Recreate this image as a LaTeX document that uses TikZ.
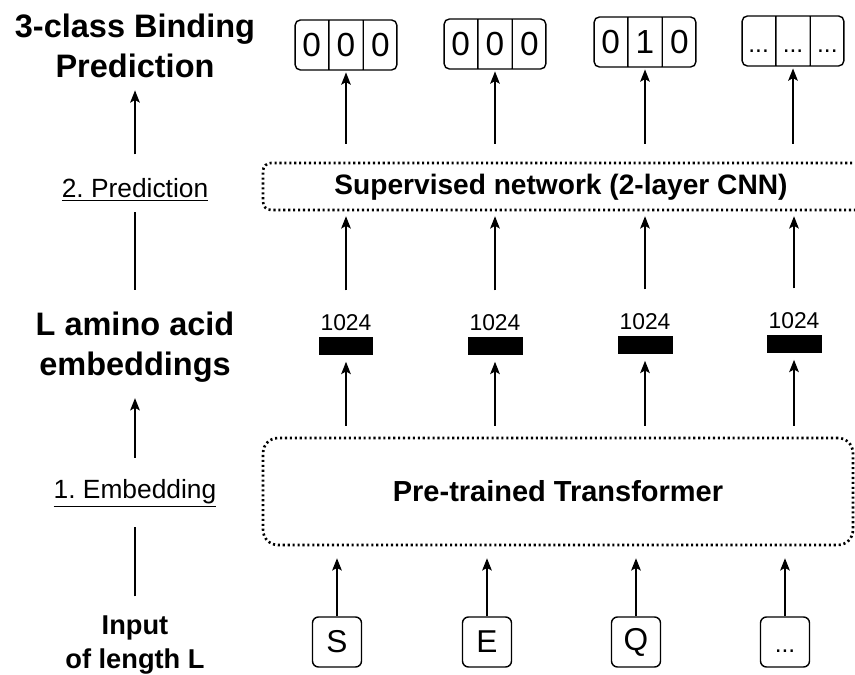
\documentclass[tikz,border=0pt]{standalone}
\usepackage{fontspec}
\setmainfont{Liberation Sans}
\usepackage{tikz}
\usetikzlibrary{shapes,arrows.meta}

\tikzset{
  arr/.style={-{Stealth[length=7pt,width=5.5pt,inset=1.5pt]}, line width=0.8pt},
  link/.style={line width=0.8pt},
  heading/.style={align=center, inner sep=0pt, font=\fontsize{18.5}{22.5}\selectfont\bfseries},
  smallhead/.style={align=center, inner sep=0pt, font=\fontsize{15.5}{19.3}\selectfont\bfseries},
  steplbl/.style={inner sep=0pt, font=\fontsize{15}{18}\selectfont},
  dotbox/.style={draw, line width=1.5pt, dash pattern=on 1.2pt off 1.6pt, font=\fontsize{16}{19}\selectfont\bfseries},
  outbox/.style={draw, line width=0.8pt, rounded corners=3pt, rectangle split, rectangle split horizontal,
    rectangle split parts=3, inner xsep=0pt, minimum height=1cm, font=\fontsize{19}{22}\selectfont},
  inbox/.style={draw, line width=0.8pt, rounded corners=3.4pt, minimum width=0.98cm, minimum height=1cm,
    inner sep=0pt, font=\fontsize{18}{21}\selectfont},
  embbar/.style={fill=black, minimum width=1.1cm, minimum height=0.38cm, inner sep=0pt},
  dimlbl/.style={inner sep=0pt, font=\fontsize{13}{15}\selectfont}
}

\newcommand{\cell}[1]{\makebox[0.66cm]{\vphantom{0}#1}}
\newcommand{\more}{{\fontsize{14}{16}\selectfont ...}}

\begin{document}
\frenchspacing
\begin{tikzpicture}[x=0.02cm, y=-0.02cm]
\useasboundingbox (0,0) rectangle (855,675);
\clip (0,0) rectangle (855,675);

% left column
\node[heading] (outlbl) at (135,46) {3-class Binding\\Prediction};
\node[steplbl] (predstep) at (135,190) {\underline{2. Prediction}};
\node[heading] (emblbl) at (135,347) {L amino acid\\embeddings};
\node[steplbl] (embstep) at (135,493) {\underline{1. Embedding}};
\node[smallhead] (inplbl) at (135,645) {Input\\of length L};

\draw[arr, shorten <=13.6pt, shorten >=7pt] (predstep) -- (outlbl);
\draw[link, shorten <=12.5pt, shorten >=5.7pt] (emblbl) -- (predstep);
\draw[arr, shorten <=12pt, shorten >=9pt] (embstep) -- (emblbl);
\draw[link, shorten <=10.8pt, shorten >=11pt] (inplbl) -- (embstep);

% output vectors
\node[outbox] (out1) at (346,45) {\cell{0}\nodepart{two}\cell{0}\nodepart{three}\cell{0}};
\node[outbox] (out2) at (495,44) {\cell{0}\nodepart{two}\cell{0}\nodepart{three}\cell{0}};
\node[outbox] (out3) at (645,42) {\cell{0}\nodepart{two}\cell{1}\nodepart{three}\cell{0}};
\node[outbox] (out4) at (793,41) {\cell{\more}\nodepart{two}\cell{\more}\nodepart{three}\cell{\more}};

% supervised network
\node[dotbox, rounded corners=4.5pt, minimum width=12.14cm, minimum height=0.94cm] (net) at (566.5,186.5) {};
\node[inner sep=0pt, font=\fontsize{16}{19}\selectfont\bfseries] (nettxt) at (561,187) {Supervised network (2-layer CNN)};

% embeddings
\node[embbar, label={[dimlbl, name=dim1, label distance=0.1cm]above:1024}] (emb1) at (346,346) {};
\node[embbar, label={[dimlbl, name=dim2, label distance=0.1cm]above:1024}] (emb2) at (495,346) {};
\node[embbar, label={[dimlbl, name=dim3, label distance=0.1cm]above:1024}] (emb3) at (645,345) {};
\node[embbar, label={[dimlbl, name=dim4, label distance=0.1cm]above:1024}] (emb4) at (794,344) {};

% transformer
\node[dotbox, rounded corners=8.5pt, minimum width=11.8cm, minimum height=2.14cm, font=\fontsize{16.5}{19}\selectfont\bfseries] (trf) at (558,491.5) {Pre-trained Transformer};

% input residues
\node[inbox] (in1) at (337,642) {S};
\node[inbox] (in2) at (487,642) {E};
\node[inbox] (in3) at (636,642) {Q};
\node[inbox] (in4) at (785,642) {\vphantom{S}\more};

% connectors
\draw[arr, shorten <=10.2pt, shorten >=1pt] (out1 |- net.north) -- (out1);
\draw[arr, shorten <=10.2pt, shorten >=1pt] (out2 |- net.north) -- (out2);
\draw[arr, shorten <=10.2pt, shorten >=1pt] (out3 |- net.north) -- (out3);
\draw[arr, shorten <=10.2pt, shorten >=1pt] (out4 |- net.north) -- (out4);

\draw[arr, shorten <=13.6pt, shorten >=2.8pt] (dim1) -- (dim1 |- net.south);
\draw[arr, shorten <=13.6pt, shorten >=2.8pt] (dim2) -- (dim2 |- net.south);
\draw[arr, shorten <=13.6pt, shorten >=2.8pt] (dim3) -- (dim3 |- net.south);
\draw[arr, shorten <=13.6pt, shorten >=2.8pt] (dim4) -- (dim4 |- net.south);

\draw[arr, shorten <=6.2pt, shorten >=3.4pt] (emb1 |- trf.north) -- (emb1);
\draw[arr, shorten <=6.2pt, shorten >=3.4pt] (emb2 |- trf.north) -- (emb2);
\draw[arr, shorten <=6.2pt, shorten >=3.4pt] (emb3 |- trf.north) -- (emb3);
\draw[arr, shorten <=6.2pt, shorten >=3.4pt] (emb4 |- trf.north) -- (emb4);

\draw[arr, shorten >=6.8pt] (in1) -- (in1 |- trf.south);
\draw[arr, shorten >=6.8pt] (in2) -- (in2 |- trf.south);
\draw[arr, shorten >=6.8pt] (in3) -- (in3 |- trf.south);
\draw[arr, shorten >=6.8pt] (in4) -- (in4 |- trf.south);
\end{tikzpicture}
\end{document}
